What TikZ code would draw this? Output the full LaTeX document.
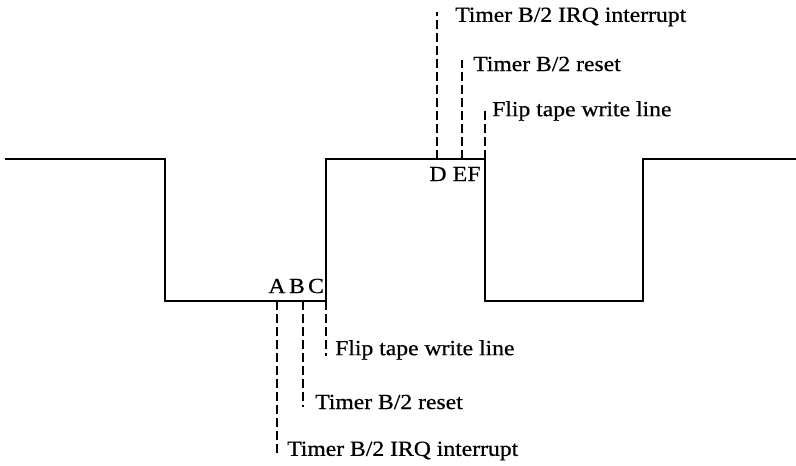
\documentclass[tikz,border=0pt]{standalone}
\usepackage{fontspec}
\setmainfont{Liberation Serif}[FakeStretch=1.1,FakeBold=0.6]
\begin{document}
\begin{tikzpicture}[x=1pt,y=-1pt,
  wave/.style={line width=2.5pt,line join=miter},
  marker/.style={line width=2.2pt,dash pattern=on 9pt off 4pt},
  lbl/.style={anchor=west,inner sep=0pt,font=\fontsize{21.5}{21.5}\selectfont},
  letter/.style={inner sep=0pt,font=\fontsize{21.5}{21.5}\selectfont}]
\useasboundingbox (0,0) rectangle (796,466);
% waveform
\coordinate (w0) at (5,159);
\coordinate (w1) at (165,159);
\coordinate (w2) at (165,301);
\coordinate (w3) at (326,301);
\coordinate (w4) at (326,159);
\coordinate (w5) at (485,159);
\coordinate (w6) at (485,301);
\coordinate (w7) at (643,301);
\coordinate (w8) at (643,159);
\coordinate (w9) at (796,159);
\draw[wave] (w0) -- (w1) -- (w2) -- (w3) -- (w4) -- (w5) -- (w6) -- (w7) -- (w8) -- (w9);
% bottom markers
\coordinate (a0) at (277,301); \coordinate (a1) at (277,455);
\coordinate (b0) at (303,301); \coordinate (b1) at (303,407);
\coordinate (c0) at (326,301); \coordinate (c1) at (326,356);
\draw[marker] (a0) -- (a1);
\draw[marker] (b0) -- (b1);
\draw[marker] (c0) -- (c1);
\node[letter] (A) at (277,286) {A};
\node[letter] (B) at (297,286) {B};
\node[letter] (C) at (316,286) {C};
\node[lbl] (lc) at (335,350) {Flip tape write line};
\node[lbl] (lb) at (315,402) {Timer B/2 reset};
\node[lbl] (la) at (287,451) {Timer B/2 IRQ interrupt};
% top markers
\coordinate (d0) at (437,159); \coordinate (d1) at (437,12);
\coordinate (e0) at (462,159); \coordinate (e1) at (462,60);
\coordinate (f0) at (485,159); \coordinate (f1) at (485,108);
\draw[marker] (d0) -- (d1);
\draw[marker] (e0) -- (e1);
\draw[marker] (f0) -- (f1);
\node[letter] (D) at (438,174) {D};
\node[letter] (E) at (460,174) {E};
\node[letter] (F) at (474,174) {F};
\node[lbl] (ld) at (455,17) {Timer B/2 IRQ interrupt};
\node[lbl] (le) at (473,64) {Timer B/2 reset};
\node[lbl] (lf) at (492,111) {Flip tape write line};
\end{tikzpicture}
\end{document}
